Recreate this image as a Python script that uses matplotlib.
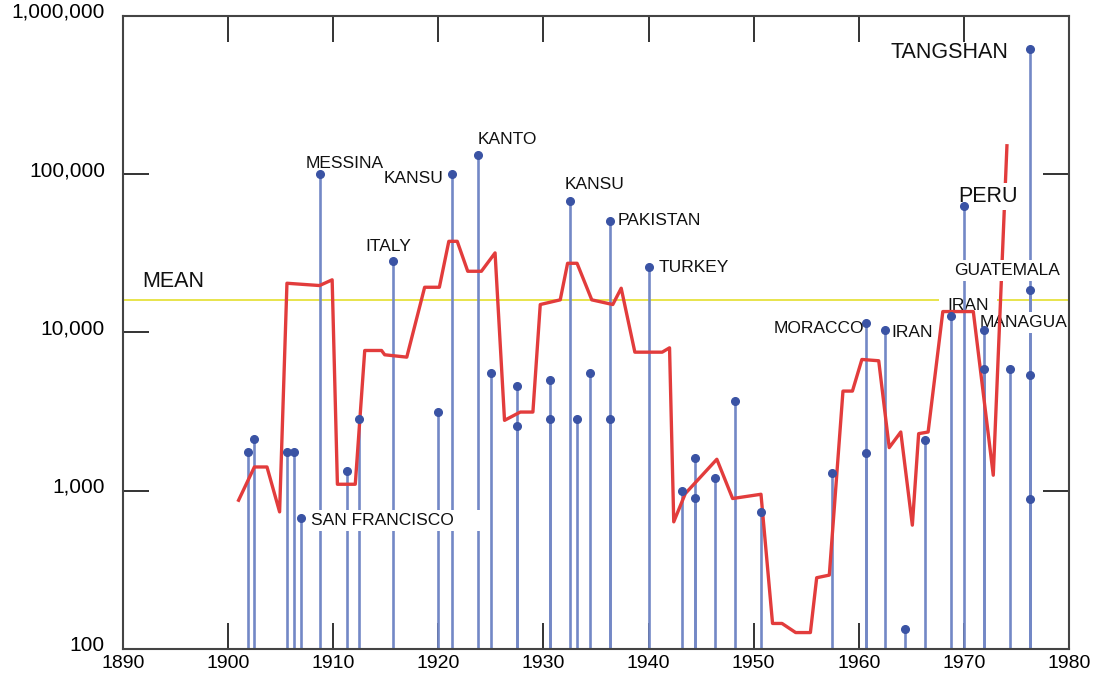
import matplotlib
matplotlib.use('Agg')
import matplotlib.pyplot as plt
import matplotlib.transforms as mtransforms
from matplotlib.ticker import FuncFormatter, NullLocator

# earthquake deaths, one stem per event (year, deaths)
quake_years = [1901.9, 1902.5, 1905.6, 1906.3, 1906.9, 1908.7, 1911.3, 1912.5,
               1915.7, 1920.0, 1921.3, 1923.75, 1925.0, 1927.5, 1927.5, 1930.6,
               1930.6, 1932.5, 1933.2, 1934.4, 1936.3, 1936.3, 1940.0, 1943.2,
               1944.4, 1944.4, 1946.3, 1948.2, 1950.7, 1957.5, 1960.7, 1960.7,
               1962.5, 1964.4, 1966.3, 1968.8, 1970.0, 1971.9, 1971.9, 1974.4,
               1976.3, 1976.3, 1976.3, 1976.3]
quake_deaths = [1760, 2130, 1760, 1760, 670, 100000, 1330, 2830,
                28300, 3130, 100000, 132000, 5570, 4580, 2560, 5030,
                2840, 67400, 2840, 5570, 50400, 2840, 25800, 1000,
                1600, 900, 1200, 3700, 735, 1300, 11560, 1730,
                10440, 134, 2090, 12670, 63300, 10440, 5900, 5900,
                616600, 18500, 5380, 890]

# running average (red curve)
avg_years = [1901.0, 1902.5, 1903.7, 1904.9, 1905.6, 1908.7, 1909.9, 1910.4,
             1912.1, 1913.0, 1914.6, 1914.9, 1917.0, 1918.7, 1920.1, 1921.0,
             1921.8, 1922.8, 1924.1, 1925.4, 1926.3, 1927.8, 1929.0, 1929.7,
             1931.6, 1932.3, 1933.2, 1934.6, 1936.6, 1937.4, 1938.7, 1941.3,
             1942.0, 1942.4, 1943.5, 1946.5, 1948.0, 1950.7, 1951.8, 1952.7,
             1954.0, 1955.4, 1956.0, 1957.2, 1958.5, 1959.4, 1960.3, 1961.9,
             1962.9, 1964.0, 1965.1, 1965.7, 1966.6, 1968.0, 1970.9, 1972.8,
             1974.1]
avg_deaths = [871, 1413, 1413, 735, 20470, 19800, 21520, 1099,
              1099, 7696, 7696, 7230, 6985, 19310, 19310, 37680,
              37680, 24370, 24370, 31830, 2785, 3142, 3142, 15020,
              16080, 27370, 27370, 16080, 15020, 19040, 7510, 7510,
              8000, 636, 960, 1581, 893, 950, 145, 145,
              127, 127, 282, 293, 4263, 4263, 6754, 6627,
              1873, 2350, 606, 2295, 2350, 13560, 13560, 1253,
              151300]

mean_deaths = 16150

# labels: text, x (year), y (deaths), size, ha, zorder, white box pad
labels = [
    ('MESSINA', 1907.4, 117000, 12.5, 'left', 6, None),
    ('KANSU', 1920.5, 93300, 12.5, 'right', 6, None),
    ('ITALY', 1913.1, 35000, 12.5, 'left', 6, None),
    ('KANTO', 1923.7, 166700, 12.5, 'left', 6, None),
    ('KANSU', 1932.05, 85500, 12.5, 'left', 6, None),
    ('PAKISTAN', 1937.1, 50900, 12.5, 'left', 6, None),
    ('TURKEY', 1941.0, 25800, 12.5, 'left', 6, None),
    ('SAN FRANCISCO      ', 1907.86, 651, 12.5, 'left', 2.5, 2),
    ('MEAN', 1891.87, 20990, 15.5, 'left', 6, None),
    ('MORACCO', 1960.5, 10640, 12.5, 'right', 6, None),
    ('IRAN', 1963.1, 10050, 12.5, 'left', 6, None),
    ('IRAN', 1968.46, 14800, 12.5, 'left', 1.5, 6),
    ('MANAGUA', 1971.47, 11610, 12.5, 'left', 2.5, 2),
    ('GUATEMALA', 1969.09, 24600, 12.5, 'left', 3.5, 2),
    ('PERU', 1969.47, 72400, 15.5, 'left', 3.5, 2),
    ('TANGSHAN', 1963.04, 586600, 15.5, 'left', 6, None),
]


def main():
    plt.rcParams['font.family'] = ['Liberation Sans', 'DejaVu Sans']
    fig = plt.figure(figsize=(11.06, 6.8), dpi=100)
    ax = fig.add_axes([0.1112, 0.0456, 0.8553, 0.9309])

    ax.axhline(mean_deaths, color='#e8e44c', lw=1.4, zorder=1)
    ax.vlines(quake_years, 100, quake_deaths, colors='#7388c6', lw=1.9, zorder=2)
    ax.plot(avg_years, avg_deaths, color='#e23c3c', lw=2.4, zorder=3)
    ax.plot(quake_years, quake_deaths, 'o', ms=5.5, color='#3a53a4', zorder=5)

    for txt, x, y, size, ha, z, pad in labels:
        kw = {}
        if pad is not None:
            kw['bbox'] = dict(facecolor='white', edgecolor='none', pad=pad)
        ax.text(x, y, txt, fontsize=size, ha=ha, va='center', color='#111111',
                zorder=z, **kw)

    ax.set_yscale('log')
    ax.set_xlim(1890, 1980)
    ax.set_ylim(100, 1000000)
    ax.set_xticks(range(1890, 1981, 10))
    ax.set_yticks([100, 1000, 10000, 100000, 1000000])
    ax.yaxis.set_minor_locator(NullLocator())
    ax.yaxis.set_major_formatter(FuncFormatter(lambda v, p: '{:,}'.format(int(v))))

    ax.tick_params(axis='both', direction='in', length=19, width=1.4,
                   color='#333333', top=True, right=True)
    ax.tick_params(axis='x', labelsize=14, pad=4)
    ax.tick_params(axis='y', labelsize=15, pad=13)
    for s in ax.spines.values():
        s.set_linewidth(1.5)
        s.set_color('#444444')

    # y labels sit a little above their ticks in the original
    shift = mtransforms.ScaledTranslation(0, 4 / 72.0, fig.dpi_scale_trans)
    for lab in ax.get_yticklabels():
        lab.set_transform(lab.get_transform() + shift)

    fig.savefig('out.png', dpi=100)
    return


if __name__ == '__main__':
    main()
